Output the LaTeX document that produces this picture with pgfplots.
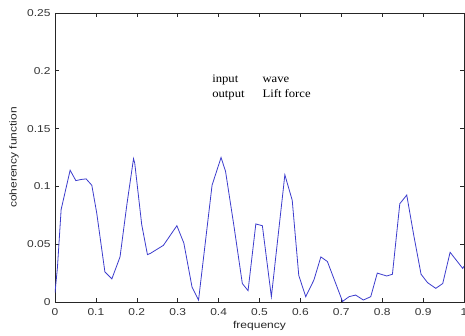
\documentclass[border=0pt]{standalone}
\usepackage{pgfplots}
\pgfplotsset{compat=1.18}
\usepackage{fontspec}
\setmainfont{Liberation Sans}
\newfontfamily\tickfont[FakeStretch=1.2]{Liberation Sans}
\newfontfamily\serifann[FakeStretch=1.1]{Liberation Serif}
\definecolor{lineblue}{RGB}{60,60,205}
\begin{document}
\begin{tikzpicture}
\begin{axis}[
  scale only axis,
  width=409pt, height=289pt,
  xmin=0, xmax=1, ymin=0, ymax=0.25,
  xtick={0,0.1,...,1.0},
  xticklabels={0,0.1,0.2,0.3,0.4,0.5,0.6,0.7,0.8,0.9,1},
  ytick={0,0.05,0.1,0.15,0.2,0.25},
  yticklabels={0,0.05,0.1,0.15,0.2,0.25},
  tick align=inside,
  major tick length=4pt,
  xtick pos=both, ytick pos=both,
  axis line style={line width=0.6pt, black!85},
  tick style={line width=0.6pt, black!85},
  tick label style={font=\tickfont\fontsize{10}{12}\selectfont, text=black!80},
  /pgf/number format/assume math mode=true,
  xticklabel style={anchor=center, yshift=-10pt},
  yticklabel style={anchor=east, xshift=-1pt},
  xlabel={frequency},
  ylabel={coherency function},
  every axis x label/.style={at={(axis description cs:0.5,-24/289)}, anchor=center, font=\tickfont\fontsize{10}{12}\selectfont, text=black!85},
  every axis y label/.style={at={(axis description cs:-41/409,0.5)}, anchor=center, rotate=90, font=\tickfont\fontsize{10}{12}\selectfont, text=black!85},
]
\addplot[lineblue, line width=0.8pt] coordinates {
(0,0.008) (0.006,0.03) (0.015,0.08) (0.037,0.114) (0.051,0.105) (0.064,0.106)
(0.076,0.1065) (0.09,0.101) (0.102,0.077) (0.122,0.026) (0.139,0.020)
(0.159,0.039) (0.176,0.085) (0.192,0.124) (0.195,0.12) (0.212,0.067)
(0.226,0.041) (0.233,0.042) (0.265,0.049) (0.298,0.066) (0.315,0.051)
(0.335,0.013) (0.351,0.0017) (0.384,0.101) (0.406,0.125) (0.417,0.113)
(0.437,0.067) (0.458,0.016) (0.472,0.0098) (0.491,0.0675) (0.507,0.066)
(0.529,0.0046) (0.562,0.110) (0.580,0.088) (0.596,0.023) (0.613,0.0046)
(0.633,0.019) (0.650,0.039) (0.666,0.035) (0.703,0.0005) (0.719,0.0046)
(0.735,0.006) (0.754,0.0017) (0.772,0.0046) (0.788,0.025) (0.811,0.0225)
(0.825,0.024) (0.843,0.085) (0.860,0.0925) (0.877,0.058) (0.895,0.024)
(0.911,0.0167) (0.931,0.0118) (0.948,0.016) (0.966,0.043) (0.997,0.029)
(1.0,0.031)
};
\node[anchor=base west, font=\serifann\fontsize{11.5}{13}\selectfont, inner sep=0pt] at (axis cs:0.384,0.190) {input};
\node[anchor=base west, font=\serifann\fontsize{11.5}{13}\selectfont, inner sep=0pt] at (axis cs:0.507,0.190) {wave};
\node[anchor=base west, font=\serifann\fontsize{11.5}{13}\selectfont, inner sep=0pt] at (axis cs:0.384,0.177) {output};
\node[anchor=base west, font=\serifann\fontsize{11.5}{13}\selectfont, inner sep=0pt] at (axis cs:0.507,0.177) {Lift force};
\end{axis}
\pgfresetboundingbox
\path[use as bounding box] ([shift={(-55pt,-34pt)}]current axis.south west) rectangle ([shift={(1pt,13pt)}]current axis.north east);
\end{tikzpicture}
\end{document}
